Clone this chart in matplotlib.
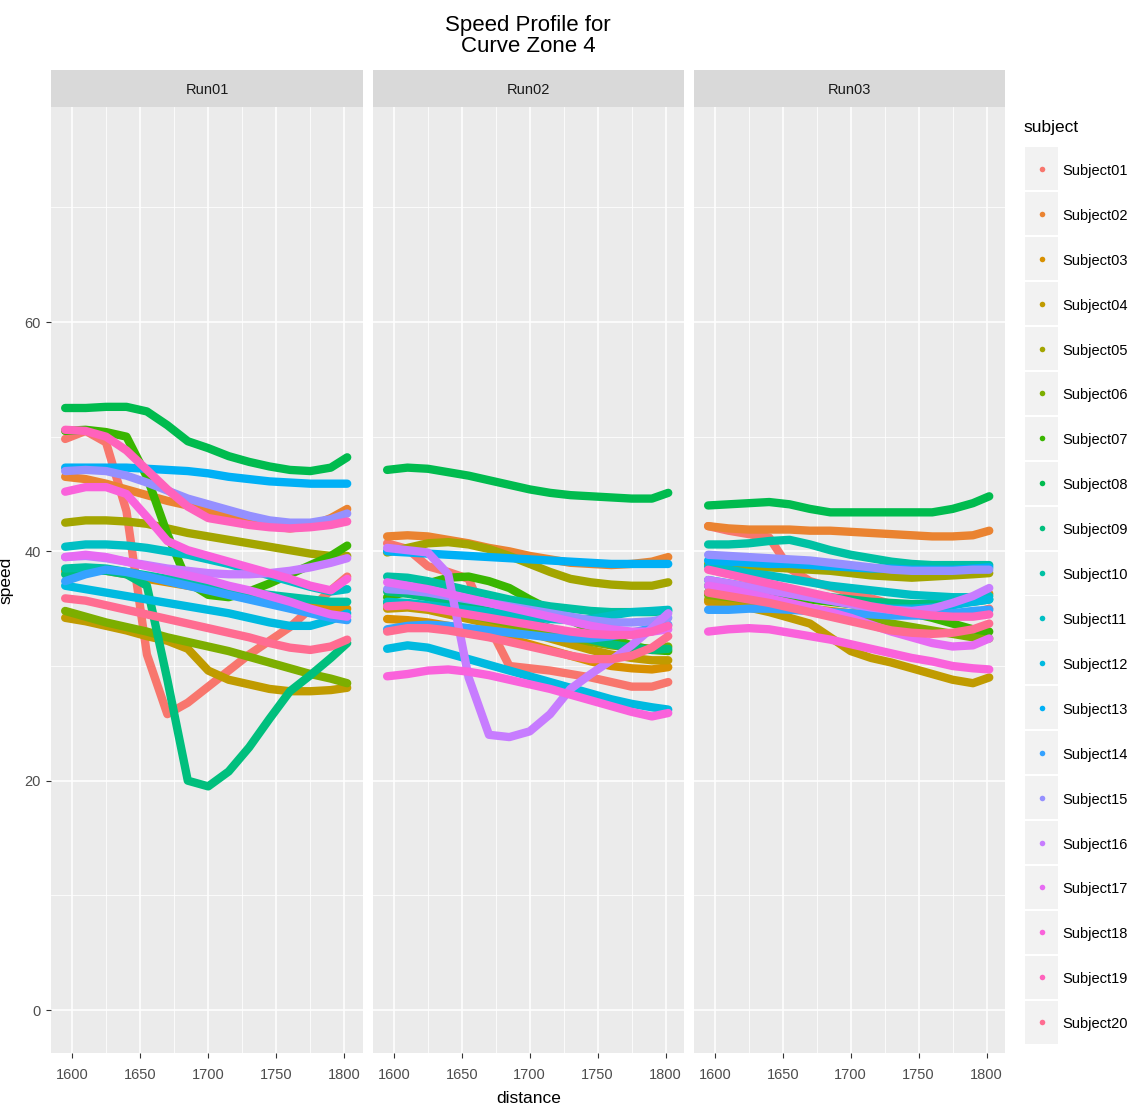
import matplotlib
matplotlib.use("Agg")
import matplotlib.pyplot as plt
from matplotlib.patches import Rectangle

# distance grid (m) shared by every series
distance = [1595, 1610, 1625, 1640, 1655, 1670, 1685, 1700, 1715, 1730, 1745, 1760, 1775, 1790, 1802]

subjects = ["Subject%02d" % i for i in range(1, 21)]
runs = ["Run01", "Run02", "Run03"]

# ggplot2 default hue palette for 20 levels
palette = ["#F8766D", "#EA8331", "#D89000", "#C09B00", "#A3A500", "#7CAE00", "#39B600",
           "#00BB4E", "#00BF7D", "#00C1A3", "#00BFC4", "#00BAE0", "#00B0F6", "#35A2FF",
           "#9590FF", "#C77CFF", "#E76BF3", "#FA62DB", "#FF62BC", "#FF6C91"]

run01 = {
    "Subject01": [49.8, 50.5, 49.5, 43.5, 31.0, 25.8, 26.8, 28.2, 29.6, 31.0, 32.2, 33.4, 35.0, 36.6, 37.8],
    "Subject02": [46.5, 46.3, 45.9, 45.4, 44.9, 44.4, 44.0, 43.5, 43.0, 42.6, 42.2, 42.0, 42.2, 42.9, 43.7],
    "Subject03": [38.3, 38.4, 38.3, 38.0, 37.6, 37.3, 37.0, 36.7, 36.4, 36.1, 35.8, 35.5, 35.2, 35.0, 35.0],
    "Subject04": [34.2, 33.9, 33.5, 33.1, 32.6, 32.2, 31.5, 29.6, 28.8, 28.4, 28.0, 27.8, 27.8, 27.9, 28.1],
    "Subject05": [42.5, 42.7, 42.7, 42.6, 42.4, 42.0, 41.6, 41.3, 41.0, 40.7, 40.4, 40.1, 39.8, 39.6, 39.6],
    "Subject06": [34.8, 34.3, 33.8, 33.4, 33.0, 32.5, 32.1, 31.7, 31.3, 30.8, 30.3, 29.8, 29.3, 28.9, 28.5],
    "Subject07": [50.5, 50.6, 50.4, 50.0, 46.5, 41.5, 37.3, 36.2, 36.0, 36.5, 37.2, 38.0, 38.8, 39.6, 40.5],
    "Subject08": [52.5, 52.5, 52.6, 52.6, 52.2, 51.0, 49.6, 49.0, 48.3, 47.8, 47.4, 47.1, 47.0, 47.3, 48.2],
    "Subject09": [38.0, 38.3, 38.3, 38.0, 37.0, 28.8, 20.0, 19.5, 20.8, 22.9, 25.4, 27.8, 29.2, 30.7, 32.0],
    "Subject10": [38.5, 38.6, 38.5, 38.2, 37.9, 37.6, 37.3, 37.0, 36.7, 36.4, 36.2, 36.0, 35.8, 35.6, 35.6],
    "Subject11": [40.4, 40.6, 40.6, 40.5, 40.3, 40.0, 39.7, 39.3, 38.9, 38.4, 37.9, 37.4, 36.9, 36.5, 36.7],
    "Subject12": [37.0, 36.7, 36.4, 36.1, 35.8, 35.5, 35.2, 34.9, 34.6, 34.2, 33.8, 33.5, 33.5, 34.0, 34.6],
    "Subject13": [47.3, 47.3, 47.3, 47.3, 47.2, 47.1, 47.0, 46.8, 46.5, 46.3, 46.1, 46.0, 45.9, 45.9, 45.9],
    "Subject14": [37.4, 38.0, 38.4, 38.2, 37.8, 37.4, 37.0, 36.6, 36.2, 35.8, 35.4, 35.0, 34.6, 34.2, 34.0],
    "Subject15": [47.0, 47.1, 47.0, 46.6, 46.0, 45.3, 44.6, 44.1, 43.6, 43.1, 42.7, 42.5, 42.5, 42.8, 43.3],
    "Subject16": [39.5, 39.6, 39.4, 39.1, 38.8, 38.5, 38.3, 38.1, 38.0, 38.0, 38.1, 38.3, 38.6, 39.0, 39.4],
    "Subject17": [39.5, 39.7, 39.5, 39.1, 38.7, 38.3, 37.9, 37.5, 37.0, 36.6, 36.1, 35.6, 35.0, 34.5, 34.3],
    "Subject18": [45.2, 45.6, 45.6, 45.0, 43.0, 40.9, 40.1, 39.6, 39.1, 38.6, 38.1, 37.6, 37.0, 36.6, 37.6],
    "Subject19": [50.6, 50.5, 50.0, 48.8, 47.1, 45.4, 43.9, 42.9, 42.6, 42.3, 42.1, 42.0, 42.1, 42.3, 42.6],
    "Subject20": [35.9, 35.7, 35.3, 34.9, 34.5, 34.1, 33.7, 33.3, 32.9, 32.5, 32.0, 31.6, 31.4, 31.7, 32.3],
}

run02 = {
    "Subject01": [40.7, 40.2, 38.7, 38.2, 37.6, 33.5, 30.0, 29.8, 29.6, 29.3, 29.0, 28.6, 28.2, 28.2, 28.6],
    "Subject02": [41.3, 41.4, 41.3, 41.0, 40.7, 40.3, 40.0, 39.6, 39.3, 39.0, 38.9, 38.8, 38.9, 39.1, 39.5],
    "Subject03": [34.1, 34.0, 33.8, 33.5, 33.2, 32.8, 32.4, 31.9, 31.4, 30.9, 30.4, 30.0, 29.8, 29.7, 29.9],
    "Subject04": [35.0, 35.1, 34.9, 34.5, 34.1, 33.7, 33.3, 32.9, 32.4, 31.9, 31.4, 31.0, 30.7, 30.5, 30.5],
    "Subject05": [39.9, 40.3, 40.7, 40.8, 40.6, 40.2, 39.6, 38.9, 38.2, 37.6, 37.3, 37.1, 37.0, 37.0, 37.3],
    "Subject06": [35.5, 35.4, 35.2, 34.9, 34.5, 34.1, 33.7, 33.3, 32.9, 32.5, 32.1, 31.8, 31.6, 31.5, 31.7],
    "Subject07": [36.0, 36.5, 37.2, 37.7, 37.8, 37.4, 36.8, 35.8, 34.9, 34.0, 33.2, 32.4, 31.8, 31.4, 31.3],
    "Subject08": [47.1, 47.3, 47.2, 46.9, 46.6, 46.2, 45.8, 45.4, 45.1, 44.9, 44.8, 44.7, 44.6, 44.6, 45.1],
    "Subject09": [36.5, 36.3, 36.0, 35.6, 35.2, 34.8, 34.3, 33.8, 33.3, 32.8, 32.3, 31.9, 31.6, 31.4, 31.5],
    "Subject10": [37.8, 37.7, 37.4, 37.0, 36.6, 36.2, 35.8, 35.5, 35.2, 35.0, 34.8, 34.7, 34.7, 34.7, 34.8],
    "Subject11": [35.6, 35.5, 35.3, 35.1, 34.9, 34.7, 34.5, 34.3, 34.1, 34.0, 34.1, 34.4, 34.7, 34.8, 34.9],
    "Subject12": [31.5, 31.8, 31.6, 31.1, 30.6, 30.1, 29.6, 29.1, 28.6, 28.1, 27.6, 27.1, 26.7, 26.4, 26.2],
    "Subject13": [40.0, 39.9, 39.8, 39.7, 39.6, 39.5, 39.4, 39.3, 39.2, 39.1, 39.0, 38.9, 38.9, 38.9, 38.9],
    "Subject14": [33.2, 33.5, 33.6, 33.5, 33.3, 33.1, 32.9, 32.7, 32.5, 32.4, 32.4, 32.6, 32.9, 33.3, 33.6],
    "Subject15": [36.7, 36.6, 36.4, 36.1, 35.8, 35.5, 35.2, 34.9, 34.6, 34.3, 34.0, 33.8, 33.8, 33.9, 34.2],
    "Subject16": [40.3, 40.1, 39.9, 38.0, 29.0, 24.0, 23.8, 24.3, 25.8, 28.0, 29.3, 30.5, 31.8, 33.3, 34.6],
    "Subject17": [37.3, 37.0, 36.7, 36.3, 35.9, 35.5, 35.1, 34.7, 34.3, 33.9, 33.5, 33.2, 33.0, 33.0, 33.2],
    "Subject18": [29.1, 29.3, 29.6, 29.7, 29.5, 29.2, 28.8, 28.4, 28.0, 27.5, 27.0, 26.5, 26.0, 25.6, 25.9],
    "Subject19": [35.2, 35.3, 35.1, 34.8, 34.5, 34.2, 33.9, 33.6, 33.3, 33.0, 32.8, 32.7, 32.7, 33.0, 33.5],
    "Subject20": [33.0, 33.3, 33.3, 33.1, 32.8, 32.5, 32.1, 31.7, 31.3, 30.9, 30.6, 30.6, 30.9, 31.6, 32.6],
}

run03 = {
    "Subject01": [42.2, 41.8, 41.5, 41.2, 38.5, 37.4, 36.9, 36.4, 35.9, 35.4, 35.0, 34.7, 34.5, 34.6, 35.0],
    "Subject02": [42.2, 42.0, 41.9, 41.9, 41.9, 41.8, 41.8, 41.7, 41.6, 41.5, 41.4, 41.3, 41.3, 41.4, 41.8],
    "Subject03": [35.6, 35.6, 35.5, 35.4, 35.2, 35.0, 34.8, 34.6, 34.5, 34.5, 34.6, 34.9, 35.3, 35.8, 36.3],
    "Subject04": [35.8, 35.5, 35.1, 34.7, 34.2, 33.7, 32.5, 31.3, 30.7, 30.3, 29.8, 29.3, 28.8, 28.5, 29.0],
    "Subject05": [38.9, 38.8, 38.7, 38.6, 38.5, 38.4, 38.3, 38.1, 37.9, 37.8, 37.7, 37.8, 37.9, 38.0, 38.1],
    "Subject06": [36.2, 36.0, 35.8, 35.5, 35.2, 34.9, 34.6, 34.3, 34.0, 33.7, 33.4, 33.1, 32.8, 32.5, 32.4],
    "Subject07": [36.4, 36.5, 36.4, 36.2, 36.0, 35.8, 35.6, 35.4, 35.2, 35.0, 34.6, 34.2, 33.7, 33.2, 33.0],
    "Subject08": [44.0, 44.1, 44.2, 44.3, 44.1, 43.7, 43.4, 43.4, 43.4, 43.4, 43.4, 43.4, 43.7, 44.2, 44.8],
    "Subject09": [37.0, 36.9, 36.8, 36.6, 36.4, 36.2, 36.0, 35.8, 35.6, 35.5, 35.4, 35.4, 35.5, 35.6, 35.8],
    "Subject10": [40.6, 40.6, 40.7, 40.9, 41.0, 40.6, 40.1, 39.7, 39.4, 39.1, 38.9, 38.8, 38.8, 38.8, 38.8],
    "Subject11": [38.7, 38.4, 38.1, 37.9, 37.6, 37.3, 37.0, 36.8, 36.6, 36.4, 36.2, 36.1, 36.0, 36.0, 36.1],
    "Subject12": [37.5, 37.2, 36.9, 36.6, 36.3, 36.0, 35.7, 35.4, 35.2, 35.0, 35.0, 35.1, 35.3, 35.6, 35.8],
    "Subject13": [39.2, 39.1, 39.0, 38.9, 38.9, 38.8, 38.7, 38.6, 38.5, 38.5, 38.4, 38.4, 38.4, 38.5, 38.6],
    "Subject14": [34.9, 34.9, 35.0, 35.0, 34.9, 34.8, 34.7, 34.6, 34.5, 34.4, 34.4, 34.4, 34.6, 34.8, 34.9],
    "Subject15": [39.7, 39.6, 39.5, 39.4, 39.3, 39.2, 39.0, 38.8, 38.6, 38.4, 38.3, 38.3, 38.3, 38.4, 38.4],
    "Subject16": [37.5, 37.2, 36.9, 36.6, 36.3, 36.0, 35.7, 35.4, 35.1, 34.9, 34.8, 35.0, 35.5, 36.1, 36.8],
    "Subject17": [37.0, 36.7, 36.3, 35.9, 35.5, 35.1, 34.7, 34.2, 33.6, 33.0, 32.5, 32.0, 31.7, 31.8, 32.4],
    "Subject18": [33.0, 33.2, 33.3, 33.2, 32.9, 32.6, 32.3, 31.9, 31.5, 31.1, 30.7, 30.4, 30.0, 29.8, 29.7],
    "Subject19": [38.4, 38.0, 37.6, 37.2, 36.8, 36.4, 36.0, 35.6, 35.2, 34.9, 34.6, 34.4, 34.3, 34.3, 34.5],
    "Subject20": [36.4, 36.1, 35.8, 35.5, 35.1, 34.7, 34.3, 33.9, 33.5, 33.1, 32.9, 32.8, 32.9, 33.2, 33.7],
}

x_ticks = [1600, 1650, 1700, 1750, 1800]
y_ticks = [0, 20, 40, 60]

plt.rcParams["font.family"] = ["Liberation Sans", "DejaVu Sans"]

W, H = 1130, 1113
fig = plt.figure(figsize=(W / 100, H / 100), dpi=100)


def box(x0, y0, x1, y1):
    # pixel box (top-left origin) -> figure fraction
    return [x0 / W, 1 - y1 / H, (x1 - x0) / W, (y1 - y0) / H]


panel_x = [(51, 363), (373, 684), (694, 1005)]
top, bottom = 107, 1053

for i, (run, data) in enumerate(zip(runs, [run01, run02, run03])):
    x0, x1 = panel_x[i]
    ax = fig.add_axes(box(x0, top, x1, bottom))
    ax.set_facecolor("#EBEBEB")
    for s in ax.spines.values():
        s.set_visible(False)
    for j, subj in enumerate(subjects):
        ax.plot(distance, data[subj], color=palette[j], lw=6,
                solid_capstyle="round", solid_joinstyle="round")
    ax.set_xlim(1584.6, 1813.6)
    ax.set_ylim(-3.75, 78.75)
    ax.set_xticks(x_ticks)
    ax.set_xticks([1625, 1675, 1725, 1775], minor=True)
    ax.set_yticks(y_ticks)
    ax.set_yticks([10, 30, 50, 70], minor=True)
    ax.grid(True, which="major", color="white", lw=1.1)
    ax.grid(True, which="minor", color="white", lw=0.55)
    ax.set_axisbelow(True)
    ax.tick_params(which="minor", length=0)
    ax.tick_params(which="major", length=3.5, color="#333333", labelsize=10.5,
                   labelcolor="#4D4D4D", width=0.8, pad=7)
    if i > 0:
        ax.tick_params(axis="y", left=False, labelleft=False)
    else:
        ax.tick_params(axis="y", pad=4)
        ax.set_ylabel("speed", fontsize=12.5, labelpad=8)
    if i == 1:
        ax.set_xlabel("distance", fontsize=12.5, labelpad=7)

    # facet strip
    st = fig.add_axes(box(x0, 70, x1, top))
    st.set_facecolor("#D9D9D9")
    st.set_xticks([])
    st.set_yticks([])
    for s in st.spines.values():
        s.set_visible(False)
    st.text(0.5, 0.47, run, ha="center", va="center", fontsize=10.5, color="#1A1A1A",
            transform=st.transAxes)

fig.text(528 / W, 1 - 36 / H, "Speed Profile for\nCurve Zone 4", ha="center", va="center",
         fontsize=16, linespacing=1.0)

# legend
lg = fig.add_axes(box(1015, 110, W, 1055))
lg.set_xlim(1015, W)
lg.set_ylim(1055, 110)
lg.axis("off")
lg.text(1023, 128, "subject", fontsize=12.5, va="center", ha="left")
for j, subj in enumerate(subjects):
    yc = 169 + j * 44.9
    lg.add_patch(Rectangle((1025, yc - 21.5), 33, 43, facecolor="#F2F2F2", edgecolor="none"))
    lg.plot([1042], [yc], marker="o", ms=4, color=palette[j], mec="none")
    lg.text(1062, yc + 2, subj, fontsize=10.5, va="center", ha="left")

fig.savefig("out.png", dpi=100)
